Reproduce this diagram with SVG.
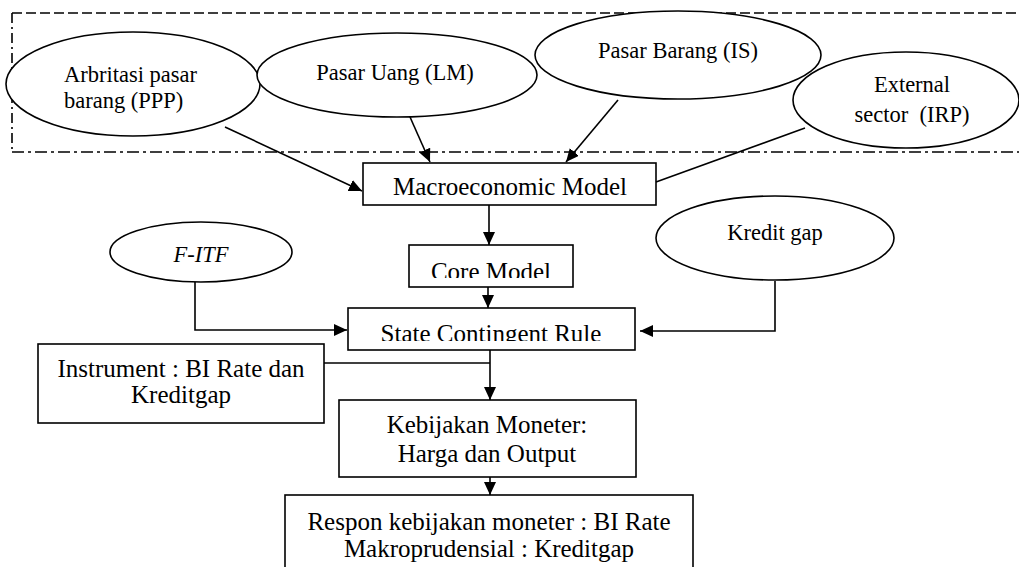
<svg xmlns="http://www.w3.org/2000/svg" width="1019" height="567" viewBox="0 0 1019 567">
<style>
.sh{fill:#fff;stroke:#000;stroke-width:1.6}
text{font-family:'Liberation Serif','DejaVu Serif',serif;fill:#000}
.e{font-size:22.5px}
.b{font-size:25px}
.c{fill:none;stroke:#000;stroke-width:1.6}
</style>
<defs>
<marker id="ah" markerUnits="userSpaceOnUse" markerWidth="14" markerHeight="12" refX="13" refY="6" orient="auto">
<path d="M0,0 L13,6 L0,12 Z" fill="#000"/>
</marker>
<clipPath id="clipCore"><rect x="409" y="245" width="164" height="33"/></clipPath>
<clipPath id="clipState"><rect x="348" y="308" width="287" height="33"/></clipPath>
</defs>
<rect width="1019" height="567" fill="#fff"/>
<g id="frame">
<line x1="12" y1="13" x2="1019" y2="13" class="c" stroke-dasharray="10 4"/>
<line x1="12" y1="13" x2="12" y2="152" class="c" stroke-dasharray="10 4 2 4"/>
<line x1="12" y1="152" x2="1019" y2="152" class="c" stroke-dasharray="12 4 3 4"/>
</g>
<g id="n-arbritasi">
<ellipse cx="133" cy="84" rx="127" ry="52" class="sh"/>
<text class="e" x="64" y="82" font-family="Liberation Serif">Arbritasi pasar</text>
<text class="e" x="64" y="108" font-family="Liberation Serif">barang (PPP)</text>
</g>
<g id="n-pasaruang">
<ellipse cx="397" cy="75" rx="140" ry="42" class="sh"/>
<text class="e" x="395" y="80" text-anchor="middle">Pasar Uang (LM)</text>
</g>
<g id="n-pasarbarang">
<ellipse cx="678" cy="55" rx="143" ry="44" class="sh"/>
<text class="e" x="678" y="58" text-anchor="middle">Pasar Barang (IS)</text>
</g>
<g id="n-external">
<ellipse cx="906" cy="100" rx="113" ry="48" class="sh"/>
<text class="e" x="912" y="92" text-anchor="middle">External</text>
<text class="e" x="912" y="122" text-anchor="middle" xml:space="preserve">sector  (IRP)</text>
</g>
<g id="n-macro">
<rect x="363" y="163" width="293" height="42" class="sh"/>
<text class="b" x="510" y="195" text-anchor="middle">Macroeconomic Model</text>
</g>
<g id="n-core">
<rect x="409" y="245" width="164" height="42" class="sh"/>
<text class="b" x="491" y="280" text-anchor="middle" clip-path="url(#clipCore)">Core Model</text>
</g>
<g id="n-fitf">
<ellipse cx="201" cy="252" rx="91" ry="30" class="sh"/>
<text class="e" x="201" y="262" text-anchor="middle" font-style="italic">F-ITF</text>
</g>
<g id="n-kreditgap">
<ellipse cx="775" cy="238" rx="119" ry="42" class="sh"/>
<text class="e" x="775" y="240" text-anchor="middle">Kredit gap</text>
</g>
<g id="n-state">
<rect x="348" y="308" width="287" height="42" class="sh"/>
<text class="b" x="491" y="342" text-anchor="middle" clip-path="url(#clipState)">State Contingent Rule</text>
</g>
<g id="n-instrument">
<rect x="38" y="344" width="286" height="79" class="sh"/>
<text class="b" x="181" y="377" text-anchor="middle">Instrument : BI Rate dan</text>
<text class="b" x="181" y="403" text-anchor="middle">Kreditgap</text>
</g>
<g id="n-kebijakan">
<rect x="339" y="400" width="297" height="77" class="sh"/>
<text class="b" x="487" y="433" text-anchor="middle">Kebijakan Moneter:</text>
<text class="b" x="487" y="462" text-anchor="middle">Harga dan Output</text>
</g>
<g id="n-respon">
<rect x="285" y="495" width="408" height="90" class="sh"/>
<text class="b" x="489" y="530" text-anchor="middle">Respon kebijakan moneter : BI Rate</text>
<text class="b" x="489" y="557" text-anchor="middle">Makroprudensial : Kreditgap</text>
</g>
<g id="connectors">
<line x1="225" y1="127" x2="362" y2="191" class="c" marker-end="url(#ah)"/>
<line x1="410" y1="117" x2="430" y2="162" class="c" marker-end="url(#ah)"/>
<line x1="618" y1="100" x2="566" y2="162" class="c" marker-end="url(#ah)"/>
<line x1="805" y1="128" x2="656" y2="182" class="c"/>
<line x1="489" y1="205" x2="489" y2="245" class="c" marker-end="url(#ah)"/>
<line x1="488" y1="287" x2="488" y2="308" class="c" marker-end="url(#ah)"/>
<polyline points="195,282 195,330 347,330" class="c" marker-end="url(#ah)"/>
<polyline points="775,281 775,331 640,331" class="c" marker-end="url(#ah)"/>
<line x1="324" y1="363" x2="490" y2="363" class="c"/>
<line x1="490" y1="350" x2="490" y2="400" class="c" marker-end="url(#ah)"/>
<line x1="490" y1="477" x2="490" y2="495" class="c" marker-end="url(#ah)"/>
</g>
</svg>
